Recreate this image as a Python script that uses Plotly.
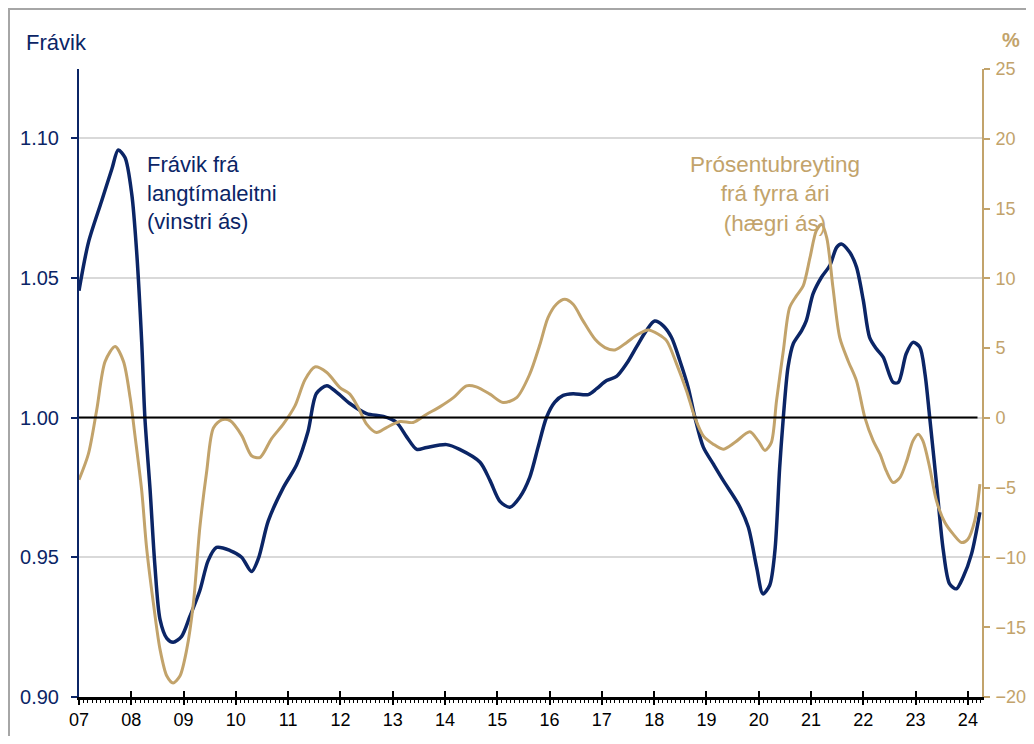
import plotly.graph_objects as go

# ---------------- data ----------------
year_ticks = list(range(2007, 2025))
year_labels = ["07", "08", "09", "10", "11", "12", "13", "14", "15", "16",
               "17", "18", "19", "20", "21", "22", "23", "24"]

left_ticks = [0.90, 0.95, 1.00, 1.05, 1.10]
left_labels = ["0.90", "0.95", "1.00", "1.05", "1.10"]
right_ticks = [-20, -15, -10, -5, 0, 5, 10, 15, 20, 25]

# Frávik frá langtímaleitni (left axis)
dev_x = [2007.00, 2007.18, 2007.43, 2007.63, 2007.75, 2007.88, 2008.01, 2008.10,
         2008.20, 2008.26, 2008.36, 2008.45, 2008.55, 2008.68, 2008.80, 2008.96,
         2009.12, 2009.31, 2009.47, 2009.63, 2009.89, 2010.11, 2010.30, 2010.43,
         2010.62, 2010.91, 2011.16, 2011.38, 2011.54, 2011.74, 2011.93, 2012.18,
         2012.50, 2012.82, 2013.07, 2013.27, 2013.46, 2013.65, 2014.03, 2014.28,
         2014.67, 2014.86, 2015.05, 2015.24, 2015.43, 2015.62, 2015.78, 2015.94,
         2016.10, 2016.26, 2016.45, 2016.74, 2016.90, 2017.09, 2017.28, 2017.47,
         2017.66, 2017.85, 2018.01, 2018.17, 2018.33, 2018.49, 2018.65, 2018.78,
         2018.94, 2019.13, 2019.32, 2019.61, 2019.80, 2019.96, 2020.08, 2020.21,
         2020.31, 2020.40, 2020.47, 2020.56, 2020.66, 2020.82, 2020.91, 2021.04,
         2021.20, 2021.36, 2021.49, 2021.58, 2021.74, 2021.87, 2022.00, 2022.12,
         2022.25, 2022.38, 2022.57, 2022.67, 2022.82, 2022.95, 2023.08, 2023.18,
         2023.27, 2023.40, 2023.53, 2023.65, 2023.78, 2023.91, 2024.07, 2024.23]
dev_y = [1.0454, 1.0626, 1.0773, 1.0890, 1.0957, 1.0930, 1.0798, 1.0600,
         1.0268, 1.0000, 0.9740, 0.9474, 0.9277, 0.9210, 0.9196, 0.9216,
         0.9288, 0.9380, 0.9488, 0.9535, 0.9524, 0.9500, 0.9449, 0.9495,
         0.9630, 0.9750, 0.9830, 0.9950, 1.0086, 1.0114, 1.0090, 1.0050,
         1.0014, 1.0004, 0.9983, 0.9930, 0.9886, 0.9893, 0.9903, 0.9886,
         0.9840, 0.9775, 0.9700, 0.9679, 0.9715, 0.9786, 0.9894, 1.0000,
         1.0055, 1.0079, 1.0085, 1.0082, 1.0103, 1.0132, 1.0147, 1.0192,
         1.0252, 1.0311, 1.0345, 1.0329, 1.0287, 1.0204, 1.0108, 1.0000,
         0.9894, 0.9834, 0.9775, 0.9690, 0.9608, 0.9464, 0.9369, 0.9400,
         0.9524, 0.9820, 1.0000, 1.0180, 1.0264, 1.0311, 1.0347, 1.0443,
         1.0502, 1.0544, 1.0609, 1.0621, 1.0591, 1.0538, 1.0419, 1.0287,
         1.0246, 1.0216, 1.0126, 1.0126, 1.0228, 1.0269, 1.0252, 1.0156,
         1.0000, 0.9763, 0.9524, 0.9405, 0.9387, 0.9429, 0.9512, 0.9661]

# Prósentubreyting frá fyrra ári (right axis, %)
pct_x = [2007.00, 2007.18, 2007.34, 2007.50, 2007.69, 2007.85, 2007.98, 2008.07,
         2008.20, 2008.29, 2008.42, 2008.55, 2008.68, 2008.80, 2008.93, 2009.06,
         2009.19, 2009.31, 2009.44, 2009.57, 2009.73, 2009.89, 2010.11, 2010.30,
         2010.46, 2010.68, 2010.91, 2011.13, 2011.32, 2011.51, 2011.74, 2011.99,
         2012.18, 2012.34, 2012.50, 2012.69, 2012.88, 2013.14, 2013.39, 2013.65,
         2013.90, 2014.16, 2014.41, 2014.60, 2014.86, 2015.11, 2015.37, 2015.62,
         2015.81, 2015.97, 2016.13, 2016.29, 2016.45, 2016.64, 2016.87, 2017.06,
         2017.25, 2017.47, 2017.69, 2017.89, 2018.08, 2018.24, 2018.43, 2018.62,
         2018.78, 2018.94, 2019.13, 2019.32, 2019.54, 2019.83, 2019.99, 2020.12,
         2020.24, 2020.34, 2020.47, 2020.59, 2020.72, 2020.85, 2020.98, 2021.10,
         2021.20, 2021.30, 2021.42, 2021.55, 2021.71, 2021.87, 2022.03, 2022.19,
         2022.32, 2022.44, 2022.57, 2022.70, 2022.83, 2022.95, 2023.05, 2023.14,
         2023.27, 2023.40, 2023.56, 2023.72, 2023.88, 2024.00, 2024.13, 2024.23]
pct_y = [-4.43, -2.58, 0.60, 4.05, 5.11, 4.05, 1.40, -1.25,
         -5.23, -9.20, -13.20, -16.60, -18.50, -19.00, -18.50, -16.60,
         -13.20, -7.90, -3.90, -0.72, -0.14, -0.20, -1.25, -2.71,
         -2.84, -1.50, -0.43, 0.86, 2.72, 3.65, 3.25, 2.17,
         1.70, 0.74, -0.45, -1.05, -0.69, -0.26, -0.33, 0.26,
         0.79, 1.45, 2.29, 2.22, 1.70, 1.10, 1.45, 3.13,
         5.20, 7.18, 8.14, 8.50, 8.14, 6.95, 5.63, 5.04,
         4.87, 5.39, 5.99, 6.30, 5.99, 5.52, 3.85, 1.93,
         0.02, -1.29, -1.88, -2.24, -1.77, -1.00, -1.65, -2.33,
         -1.77, 1.22, 4.80, 7.90, 8.74, 9.46, 11.48, 13.40,
         13.87, 12.92, 9.33, 5.75, 4.08, 2.65, 0.02, -1.65,
         -2.60, -3.80, -4.63, -4.28, -3.08, -1.65, -1.17, -1.65,
         -3.56, -5.95, -7.50, -8.33, -8.93, -8.69, -7.38, -4.75]

# ---------------- style ----------------
NAVY = "#0B2566"
TAN = "#C2A36B"
GRID = "#D9D9D9"
FONT = "Liberation Sans, Arial, sans-serif"

# the page body adds an 8px offset on every side; keep the figure inside the
# window so no scrollbar appears. Plot area targeted at 79..982 x 69..697 on screen.
OFF = 8
WIN_W, WIN_H = 1034, 744
FIG_W, FIG_H = WIN_W - 2 * OFF, WIN_H - 2 * OFF
PL, PR, PT, PB = 79, 982, 69, 697
PW, PH = PR - PL, PB - PT


def px_x(x):
    return (x - PL) / PW


def px_y(y):
    return (PB - y) / PH


fig = go.Figure()

fig.add_trace(go.Scatter(
    x=dev_x, y=dev_y, mode="lines", yaxis="y", xaxis="x",
    line=dict(color=NAVY, width=3.5, shape="spline", smoothing=0.8),
    showlegend=False, hoverinfo="skip"))

fig.add_trace(go.Scatter(
    x=pct_x, y=pct_y, mode="lines", yaxis="y2", xaxis="x",
    line=dict(color=TAN, width=3, shape="spline", smoothing=0.8),
    showlegend=False, hoverinfo="skip"))

# invisible trace to activate the overlay x-axis (inner major ticks)
fig.add_trace(go.Scatter(
    x=[year_ticks[0]], y=[left_ticks[0]], mode="markers", xaxis="x2", yaxis="y",
    marker=dict(opacity=0), showlegend=False, hoverinfo="skip"))

x_range = [2007.0, 2024.27]

fig.update_layout(
    width=FIG_W, height=FIG_H,
    margin=dict(l=PL - OFF, r=(OFF + FIG_W) - PR, t=PT - OFF, b=(OFF + FIG_H) - PB,
                autoexpand=False),
    paper_bgcolor="white", plot_bgcolor="white",
    font=dict(family=FONT),
    xaxis=dict(
        range=x_range, tickmode="array", tickvals=year_ticks, ticktext=year_labels,
        ticks="outside", ticklen=5, tickwidth=2, tickcolor="black",
        showline=True, linecolor="black", linewidth=2.5,
        showgrid=False, zeroline=False, automargin=False,
        tickfont=dict(size=18, color="black", family=FONT),
        minor=dict(tickmode="linear", tick0=2007, dtick=1/12, ticks="outside",
                   ticklen=3, tickwidth=1, tickcolor="black", showgrid=False),
        anchor="y", fixedrange=True),
    xaxis2=dict(
        range=x_range, overlaying="x", anchor="y", side="bottom",
        tickmode="array", tickvals=year_ticks, ticks="inside", ticklen=6,
        tickwidth=2, tickcolor="black", showticklabels=False, automargin=False,
        showline=False, showgrid=False, zeroline=False, fixedrange=True),
    yaxis=dict(
        range=[0.90, 1.1247], tickmode="array", tickvals=left_ticks, ticktext=left_labels,
        showgrid=True, gridcolor=GRID, gridwidth=1.5, zeroline=False,
        showline=True, linecolor=NAVY, linewidth=2, automargin=False,
        ticks="outside", ticklen=6, tickwidth=1.5, tickcolor=NAVY,
        ticklabelstandoff=8,
        tickfont=dict(size=20, color=NAVY, family=FONT), fixedrange=True),
    yaxis2=dict(
        range=[-20, 25], tickmode="array", tickvals=right_ticks,
        overlaying="y", side="right", anchor="x", automargin=False,
        showgrid=False, zeroline=False,
        showline=True, linecolor=TAN, linewidth=2,
        ticks="outside", ticklen=6, tickwidth=1.5, tickcolor=TAN,
        ticklabelstandoff=2,
        tickfont=dict(size=18, color=TAN, family=FONT), fixedrange=True),
    shapes=[
        dict(type="line", xref="paper", yref="y", x0=0, x1=0.995, y0=1.0, y1=1.0,
             line=dict(color="black", width=1.8), layer="above"),
        dict(type="rect", xref="paper", yref="paper",
             x0=px_x(9), x1=px_x(1045), y0=px_y(760), y1=px_y(9),
             line=dict(color="#A6A6A6", width=2), fillcolor="rgba(0,0,0,0)",
             layer="below"),
    ],
    annotations=[
        dict(text="Frávik", xref="paper", yref="paper",
             x=px_x(24), y=px_y(43), xanchor="left", yanchor="middle",
             showarrow=False, font=dict(size=22, color=NAVY, family=FONT)),
        dict(text="<b>%</b>", xref="paper", yref="paper",
             x=px_x(1011), y=px_y(40), xanchor="center", yanchor="middle",
             showarrow=False, font=dict(size=20, color=TAN, family=FONT)),
        dict(text="Frávik frá<br>langtímaleitni<br>(vinstri ás)", xref="paper", yref="paper",
             x=px_x(145), y=px_y(150), xanchor="left", yanchor="top",
             align="left", showarrow=False,
             font=dict(size=22, color=NAVY, family=FONT)),
        dict(text="Prósentubreyting<br>frá fyrra ári<br>(hægri ás)", xref="paper", yref="paper",
             x=px_x(775), y=px_y(150), xanchor="center", yanchor="top",
             align="center", showarrow=False,
             font=dict(size=22.5, color=TAN, family=FONT)),
    ],
)

fig.write_html("out.html")
